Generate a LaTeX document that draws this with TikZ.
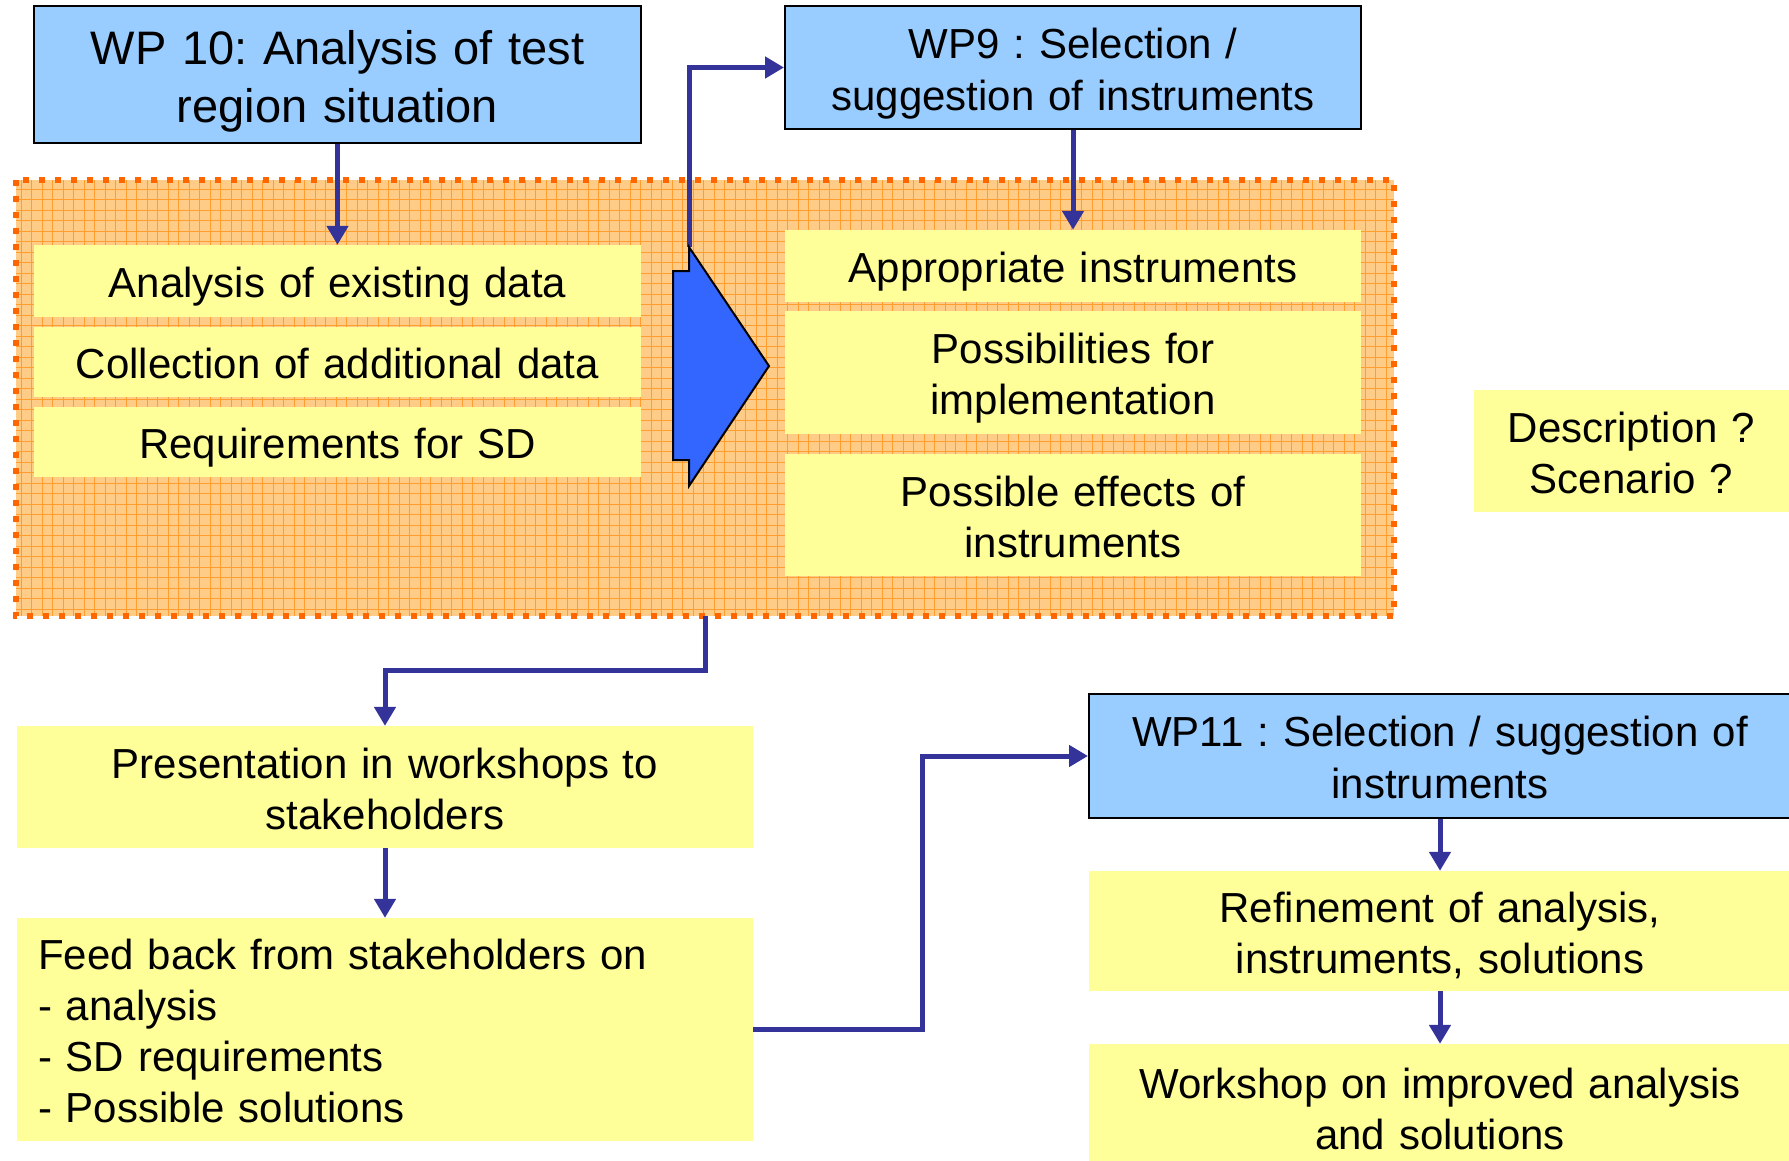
\documentclass[tikz,border=0pt]{standalone}
\usepackage{fontspec}
\setmainfont{Liberation Sans}
\usepackage{xcolor}
\usetikzlibrary{arrows.meta}
\definecolor{wpblue}{HTML}{99CCFF}
\definecolor{noteyellow}{HTML}{FFFF99}
\definecolor{phaseorange}{HTML}{FFCC88}
\definecolor{gridorange}{HTML}{FF9E2E}
\definecolor{edgeorange}{HTML}{FF6600}
\definecolor{flowblue}{HTML}{3366FF}
\definecolor{linkblue}{HTML}{333399}
\newcommand{\linestrut}{\rule[-0.212em]{0pt}{1.212em}}
\frenchspacing

\begin{document}
\begin{tikzpicture}[x=1pt,y=-1pt,
    wpbox/.style={draw=black,line width=2pt,fill=wpblue,align=center,inner xsep=10pt,inner ysep=0pt,font=\fontsize{42}{50}\selectfont,
        execute at begin node=\linestrut,execute at end node=\linestrut},
    notebox/.style={fill=noteyellow,align=center,inner xsep=10pt,inner ysep=0pt,font=\fontsize{42}{51}\selectfont,
        execute at begin node=\linestrut,execute at end node=\linestrut},
    link/.style={-{Triangle[length=19pt,width=21pt]},line width=5pt,linkblue}]
            \useasboundingbox (0,0) rectangle (1789,1160);

            \node[wpbox,text width=587pt,minimum height=137pt,font=\fontsize{47}{56}\selectfont] (wp10) at (337.5,74.5) {WP 10: Analysis of test\\region situation};
            \node[wpbox,text width=556pt,minimum height=123pt] (wp9) at (1073,67.5) {WP9 : Selection /\\suggestion of instruments};

            % orange phase area
            \node[fill=phaseorange,minimum width=1378pt,minimum height=436pt,inner sep=0pt] (phase) at (705,398) {};
            \begin{scope}
                \clip (phase.north west) rectangle (phase.south east);
                \draw[gridorange,line width=0.8pt,step=10.5pt] (phase.north west) grid (phase.south east);
            \end{scope}
            \draw[edgeorange,line width=6pt,dash pattern=on 6pt off 10pt] (phase.north west) rectangle (phase.south east);

            \node[notebox,text width=587pt,minimum height=72pt] (analysis) at (337.5,281) {Analysis of existing data};
            \node[notebox,text width=587pt,minimum height=70pt] (collection) at (337.5,362) {Collection of additional data};
            \node[notebox,text width=587pt,minimum height=70pt] (requirements) at (337.5,442) {Requirements for SD};

            \node[notebox,text width=556pt,minimum height=72pt] (appropriate) at (1073,266) {Appropriate instruments};
            \node[notebox,text width=556pt,minimum height=123pt] (possibilities) at (1073,372.5) {Possibilities for\\implementation};
            \node[notebox,text width=556pt,minimum height=122pt] (effects) at (1073,515) {Possible effects of\\instruments};

            \node[notebox,text width=295pt,minimum height=122pt] (descr) at (1631.5,451) {Description ?\\Scenario ?};

            \node[notebox,text width=716pt,minimum height=122pt] (present) at (385,787) {Presentation in workshops to\\stakeholders};
            \node[notebox,inner xsep=21pt,text width=694pt,minimum height=223pt,align=left] (feedback) at (385,1029.5) {Feed back from stakeholders on\\- analysis\\- SD requirements\\- Possible solutions};

            \node[wpbox,text width=682pt,minimum height=124pt] (wp11) at (1440,756) {WP11 : Selection / suggestion of\\instruments};
            \node[notebox,text width=682pt,minimum height=120pt] (refine) at (1440,931) {Refinement of analysis,\\instruments, solutions};
            \node[notebox,text width=682pt,minimum height=126pt] (workshop) at (1440,1107) {Workshop on improved analysis\\and solutions};

            % connectors
            \coordinate (flowtop) at (689,247);
            \draw[link] (wp10.south) -- (analysis.north);
            \draw[link] (flowtop) |- (wp9.west);
            \draw[link] (wp9.south) -- (appropriate.north);
            \draw[link] (phase.south) -- ++(0,54) -| (present.north);
            \draw[link] (present.south) -- (feedback.north);
            \draw[link] (feedback.east) -- ++(169,0) |- (wp11.west);
            \draw[link] (wp11.south) -- (refine.north);
            \draw[link] (refine.south) -- (workshop.north);

            % big blue arrow
            \draw[fill=flowblue,line width=2pt,line join=miter] (flowtop) -- (769,366) -- (689,486) -- (689,460) -- (673,460) -- (673,271) -- (689,271) -- cycle;
        \end{tikzpicture}
\end{document}
